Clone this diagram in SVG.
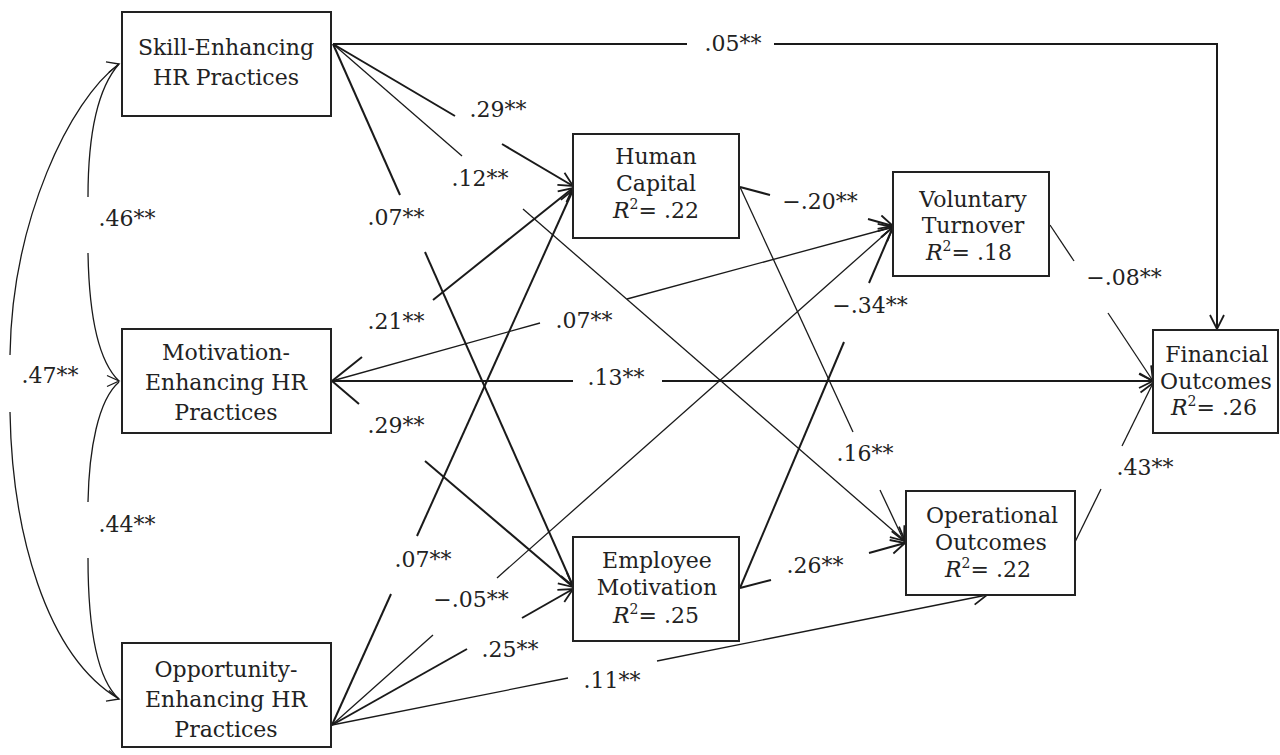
<svg xmlns="http://www.w3.org/2000/svg" width="1280" height="755" viewBox="0 0 1280 755">
<style>
.box{fill:#fff;stroke:#222;stroke-width:2}
.t{font-family:"DejaVu Serif","Liberation Serif",serif;font-size:22px;fill:#222;text-anchor:middle}
.lab{font-family:"DejaVu Serif","Liberation Serif",serif;font-size:22px;fill:#222;text-anchor:middle}
.k{fill:none;stroke:#1a1a1a;stroke-width:2}
.n{fill:none;stroke:#1a1a1a;stroke-width:1.3}
.c{fill:none;stroke:#1a1a1a;stroke-width:1.3}
.a{marker-end:url(#arr)}
</style>
<defs>
<marker id="arr" markerUnits="userSpaceOnUse" markerWidth="18" markerHeight="18" refX="15" refY="8" orient="auto">
<path d="M1,1 L15,8 L1,15" fill="none" stroke="#1a1a1a" stroke-width="1.8"/>
</marker>
<marker id="cvU" markerUnits="userSpaceOnUse" markerWidth="16" markerHeight="16" refX="13" refY="7" orient="-15">
<path d="M1,1.5 L13,7 L1,12.5" fill="none" stroke="#1a1a1a" stroke-width="1.3"/>
</marker>
<marker id="cvM" markerUnits="userSpaceOnUse" markerWidth="16" markerHeight="16" refX="13" refY="7" orient="0">
<path d="M1,1.5 L13,7 L1,12.5" fill="none" stroke="#1a1a1a" stroke-width="1.3"/>
</marker>
<marker id="cvD" markerUnits="userSpaceOnUse" markerWidth="16" markerHeight="16" refX="13" refY="7" orient="15">
<path d="M1,1.5 L13,7 L1,12.5" fill="none" stroke="#1a1a1a" stroke-width="1.3"/>
</marker>
</defs>

<g id="connectors">
<!-- covariance curves -->
<path class="c" d="M119,64 C96,90 88,140 88,197" marker-start="url(#cvU)"/>
<path class="c" d="M88,253 C89,310 97,360 119,381" marker-end="url(#cvM)"/>
<path class="c" d="M119,382 C98,400 89,450 88,502"/>
<path class="c" d="M88,558 C88,630 98,680 119,699" marker-end="url(#cvD)"/>
<path class="c" d="M119,64 C70,100 12,220 10,355"/>
<path class="c" d="M10,412 C12,530 45,655 119,699"/>

<!-- Skill -> Financial -->
<path class="k" d="M333,44 L687,44"/>
<path class="k a" d="M774,44 L1217,44 L1217,329"/>
<!-- Skill -> Human Capital .29 -->
<path class="k" d="M333,44 L455,116"/>
<path class="k a" d="M502,144 L573,186"/>
<!-- Skill -> Operational .12 -->
<path class="n" d="M333,44 L462,156"/>
<path class="n a" d="M523,209 L905,541"/>
<!-- Skill -> Employee Motivation .07 -->
<path class="k" d="M333,44 L400,195"/>
<path class="k a" d="M425,252 L573,586"/>

<!-- Motivation -> HC .21 -->
<path class="k" d="M332,381 L362,357"/>
<path class="k a" d="M433,300 L573,188"/>
<!-- Motivation -> VT .07 -->
<path class="n" d="M332,381 L540,323"/>
<path class="n a" d="M627,299 L893,227"/>
<!-- Motivation -> Financial .13 -->
<path class="k" d="M332,381 L573,381"/>
<path class="k a" d="M662,381 L1153,381"/>
<!-- Motivation -> EM .29 -->
<path class="k" d="M332,381 L359,404"/>
<path class="k a" d="M425,461 L573,587"/>

<!-- Opportunity -> HC .07 -->
<path class="k" d="M332,725 L391,594"/>
<path class="k a" d="M417,536 L573,190"/>
<!-- Opportunity -> VT -.05 -->
<path class="n" d="M332,725 L433,635"/>
<path class="n a" d="M497,578 L893,227"/>
<!-- Opportunity -> EM .25 -->
<path class="k" d="M332,725 L467,649"/>
<path class="k a" d="M522,618 L573,589"/>
<!-- Opportunity -> Operational .11 -->
<path class="n" d="M332,725 L568,678"/>
<path class="n a" d="M657,661 L987,595"/>

<!-- HC -> VT -.20 -->
<path class="k" d="M740,187 L770,195"/>
<path class="k a" d="M868,219 L893,226"/>
<!-- HC -> Operational .16 -->
<path class="n" d="M740,187 L853,432"/>
<path class="n a" d="M880,490 L904,541"/>
<!-- EM -> VT -.34 -->
<path class="k" d="M740,588 L844,342"/>
<path class="k a" d="M869,283 L893,227"/>
<!-- EM -> Operational .26 -->
<path class="k" d="M740,588 L771,580"/>
<path class="k a" d="M869,553 L905,543"/>
<!-- VT -> Financial -.08 -->
<path class="n" d="M1050,225 L1074,261"/>
<path class="n a" d="M1108,313 L1153,381"/>
<!-- Operational -> Financial .43 -->
<path class="n" d="M1075,542 L1101,489"/>
<path class="n a" d="M1122,446 L1153,383"/>

<!-- labels -->
<text class="lab" x="733" y="51">.05**</text>
<text class="lab" x="498" y="117">.29**</text>
<text class="lab" x="480" y="186">.12**</text>
<text class="lab" x="396" y="225">.07**</text>
<text class="lab" x="127" y="226">.46**</text>
<text class="lab" x="50" y="383">.47**</text>
<text class="lab" x="127" y="532">.44**</text>
<text class="lab" x="396" y="329">.21**</text>
<text class="lab" x="584" y="328">.07**</text>
<text class="lab" x="616" y="385">.13**</text>
<text class="lab" x="396" y="433">.29**</text>
<text class="lab" x="820" y="209">−.20**</text>
<text class="lab" x="870" y="313">−.34**</text>
<text class="lab" x="1124" y="285">−.08**</text>
<text class="lab" x="865" y="461">.16**</text>
<text class="lab" x="1145" y="475">.43**</text>
<text class="lab" x="815" y="573">.26**</text>
<text class="lab" x="423" y="567">.07**</text>
<text class="lab" x="471" y="607">−.05**</text>
<text class="lab" x="510" y="657">.25**</text>
<text class="lab" x="612" y="688">.11**</text>
</g>

<g id="skill">
<rect class="box" x="122" y="12" width="209" height="104"/>
<text class="t" x="226" y="55">Skill-Enhancing</text>
<text class="t" x="226" y="85">HR Practices</text>
</g>
<g id="motivation">
<rect class="box" x="122" y="329" width="209" height="104"/>
<text class="t" x="226" y="360">Motivation-</text>
<text class="t" x="226" y="390">Enhancing HR</text>
<text class="t" x="226" y="420">Practices</text>
</g>
<g id="opportunity">
<rect class="box" x="122" y="643" width="209" height="104"/>
<text class="t" x="226" y="677">Opportunity-</text>
<text class="t" x="226" y="707">Enhancing HR</text>
<text class="t" x="226" y="737">Practices</text>
</g>
<g id="human-capital">
<rect class="box" x="573" y="134" width="166" height="104"/>
<text class="t" x="656" y="164">Human</text>
<text class="t" x="656" y="191">Capital</text>
<text class="t" x="656" y="218"><tspan font-style="italic">R</tspan><tspan font-size="14" dy="-9">2</tspan><tspan dy="9">= .22</tspan></text>
</g>
<g id="employee-motivation">
<rect class="box" x="573" y="537" width="166" height="104"/>
<text class="t" x="657" y="568">Employee</text>
<text class="t" x="657" y="595">Motivation</text>
<text class="t" x="656" y="623"><tspan font-style="italic">R</tspan><tspan font-size="14" dy="-9">2</tspan><tspan dy="9">= .25</tspan></text>
</g>
<g id="voluntary-turnover">
<rect class="box" x="893" y="172" width="156" height="104"/>
<text class="t" x="973" y="207">Voluntary</text>
<text class="t" x="973" y="233">Turnover</text>
<text class="t" x="969" y="260"><tspan font-style="italic">R</tspan><tspan font-size="14" dy="-9">2</tspan><tspan dy="9">= .18</tspan></text>
</g>
<g id="operational-outcomes">
<rect class="box" x="906" y="491" width="169" height="104"/>
<text class="t" x="992" y="523">Operational</text>
<text class="t" x="991" y="550">Outcomes</text>
<text class="t" x="988" y="577"><tspan font-style="italic">R</tspan><tspan font-size="14" dy="-9">2</tspan><tspan dy="9">= .22</tspan></text>
</g>
<g id="financial-outcomes">
<rect class="box" x="1153" y="330" width="125" height="103"/>
<text class="t" x="1217" y="362">Financial</text>
<text class="t" x="1216" y="389">Outcomes</text>
<text class="t" x="1214" y="415"><tspan font-style="italic">R</tspan><tspan font-size="14" dy="-9">2</tspan><tspan dy="9">= .26</tspan></text>
</g>
</svg>
